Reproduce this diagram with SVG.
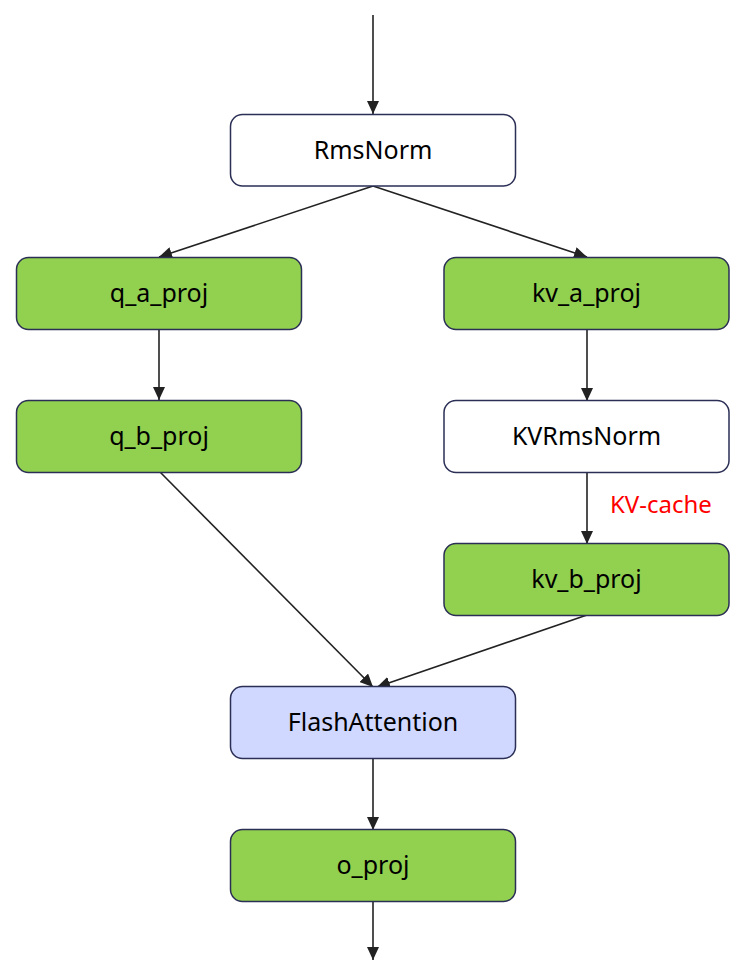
<svg xmlns="http://www.w3.org/2000/svg" width="749" height="976" viewBox="0 0 749 976">
<style>
.n rect{stroke:#2b2f55;stroke-width:1.5}
.w{fill:#ffffff}.g{fill:#92d050}.b{fill:#d0d8ff}
.n text{font-family:"Noto Sans","Open Sans",sans-serif;font-size:25px;fill:#000;text-anchor:middle}
.e line{stroke:#222;stroke-width:1.6;marker-end:url(#a)}
.lbl{font-family:"Noto Sans","Open Sans",sans-serif;font-size:24px;fill:#ff0000}
</style>
<defs>
<marker id="a" viewBox="0 0 13 12" refX="13" refY="6" markerWidth="13" markerHeight="12" markerUnits="userSpaceOnUse" orient="auto">
<path d="M0,0 L13,6 L0,12 z" fill="#222"/>
</marker>
</defs>
<rect width="749" height="976" fill="#fff"/>
<g id="edges" class="e">
<line x1="373" y1="15" x2="373" y2="114"/>
<line x1="373" y1="186" x2="159" y2="257"/>
<line x1="373" y1="186" x2="587" y2="257"/>
<line x1="159" y1="330" x2="159" y2="400"/>
<line x1="587" y1="330" x2="587" y2="401"/>
<line x1="587" y1="472" x2="587" y2="544"/>
<line x1="160" y1="472" x2="373" y2="687"/>
<line x1="587" y1="615" x2="377" y2="687"/>
<line x1="373" y1="758" x2="373" y2="830"/>
<line x1="373" y1="902" x2="373" y2="960"/>
</g>
<text class="lbl" x="610" y="513">KV-cache</text>
<g id="RmsNorm" class="n"><rect class="w" x="230.5" y="114.5" width="285" height="71.5" rx="12"/><text x="373" y="159">RmsNorm</text></g>
<g id="q_a_proj" class="n"><rect class="g" x="16.5" y="257.5" width="285" height="72" rx="12"/><text x="159" y="302">q_a_proj</text></g>
<g id="kv_a_proj" class="n"><rect class="g" x="444" y="257.5" width="285" height="72" rx="12"/><text x="586.5" y="302">kv_a_proj</text></g>
<g id="q_b_proj" class="n"><rect class="g" x="16.5" y="400.5" width="285" height="72" rx="12"/><text x="159" y="445">q_b_proj</text></g>
<g id="KVRmsNorm" class="n"><rect class="w" x="444" y="400.5" width="285" height="72" rx="12"/><text x="586.5" y="445">KVRmsNorm</text></g>
<g id="kv_b_proj" class="n"><rect class="g" x="444" y="543.5" width="285" height="72" rx="12"/><text x="586.5" y="588">kv_b_proj</text></g>
<g id="FlashAttention" class="n"><rect class="b" x="230.5" y="686.5" width="285" height="72" rx="12"/><text x="373" y="731">FlashAttention</text></g>
<g id="o_proj" class="n"><rect class="g" x="230.5" y="829.5" width="285" height="72" rx="12"/><text x="373" y="874">o_proj</text></g>
</svg>
